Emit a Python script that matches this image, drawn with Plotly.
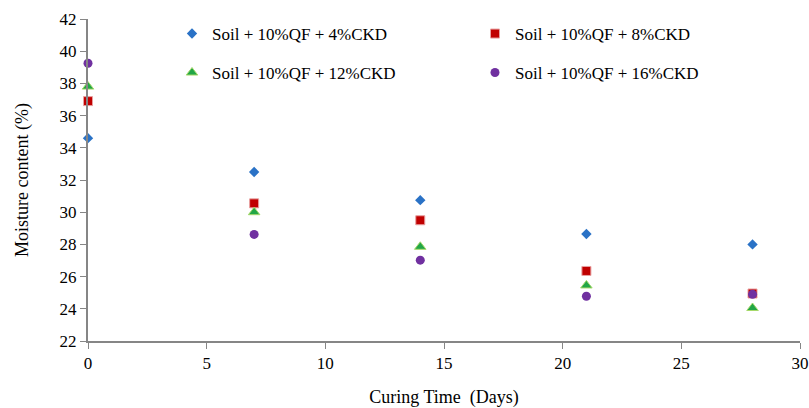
import plotly.graph_objects as go

# Curing time (days) and moisture content (%) for each CKD dosage
days = [0, 7, 14, 21, 28]
ckd4 = [34.6, 32.5, 30.75, 28.65, 28.0]
ckd8 = [36.9, 30.55, 29.5, 26.35, 24.95]
ckd12 = [37.8, 30.0, 27.85, 25.45, 24.05]
ckd16 = [39.25, 28.62, 27.02, 24.78, 24.9]

names = [
    "Soil + 10%QF + 4%CKD",
    "Soil + 10%QF + 8%CKD",
    "Soil + 10%QF + 12%CKD",
    "Soil + 10%QF + 16%CKD",
]

FONT = "Times New Roman, Liberation Serif, serif"
AXIS_COLOR = "#868686"

fig = go.Figure()
fig.add_trace(go.Scatter(
    x=days, y=ckd4, mode="markers", name=names[0], legend="legend",
    cliponaxis=False,
    marker=dict(symbol="diamond", size=8, color="#2a72c6"),
))
fig.add_trace(go.Scatter(
    x=days, y=ckd8, mode="markers", name=names[1], legend="legend",
    cliponaxis=False,
    marker=dict(symbol="square", size=9, color="#c00000",
                line=dict(color="#e8a0a0", width=1)),
))
fig.add_trace(go.Scatter(
    x=days, y=ckd12, mode="markers", name=names[2], legend="legend2",
    cliponaxis=False,
    marker=dict(symbol="triangle-up", size=10, color="#22a646",
                line=dict(color="#a6d96a", width=1)),
))
fig.add_trace(go.Scatter(
    x=days, y=ckd16, mode="markers", name=names[3], legend="legend2",
    cliponaxis=False,
    marker=dict(symbol="circle", size=9, color="#7030a0"),
))

legend_common = dict(
    orientation="h",
    xref="container", yref="container",
    xanchor="left", yanchor="middle",
    entrywidth=258, entrywidthmode="pixels",
    itemwidth=30,
    font=dict(family=FONT, size=17, color="#000000"),
    bgcolor="rgba(0,0,0,0)",
)

fig.update_layout(
    width=809, height=408,
    margin=dict(l=88, r=9, t=19, b=67, autoexpand=False),
    paper_bgcolor="white", plot_bgcolor="white",
    font=dict(family=FONT, size=17, color="#000000"),
    showlegend=True,
    legend=dict(x=172 / 809, y=1 - 34 / 408, **legend_common),
    legend2=dict(x=172 / 809, y=1 - 73 / 408, **legend_common),
    xaxis=dict(
        range=[0, 30], tickvals=[0, 5, 10, 15, 20, 25, 30],
        showgrid=False, zeroline=False,
        showline=True, linecolor=AXIS_COLOR, linewidth=2,
        ticks="outside", ticklen=6, tickcolor=AXIS_COLOR, tickwidth=1,
        tickfont=dict(family=FONT, size=17),
        ticklabeloverflow="allow",
        title=dict(text="Curing Time  (Days)", font=dict(family=FONT, size=18), standoff=22),
    ),
    yaxis=dict(
        range=[22, 42], tickvals=list(range(22, 43, 2)),
        showgrid=False, zeroline=False,
        showline=True, linecolor=AXIS_COLOR, linewidth=2,
        ticks="outside", ticklen=6, tickcolor=AXIS_COLOR, tickwidth=1,
        tickfont=dict(family=FONT, size=17),
        title=dict(text="Moisture content (%)", font=dict(family=FONT, size=18), standoff=26),
    ),
)

fig.write_html("out.html")
